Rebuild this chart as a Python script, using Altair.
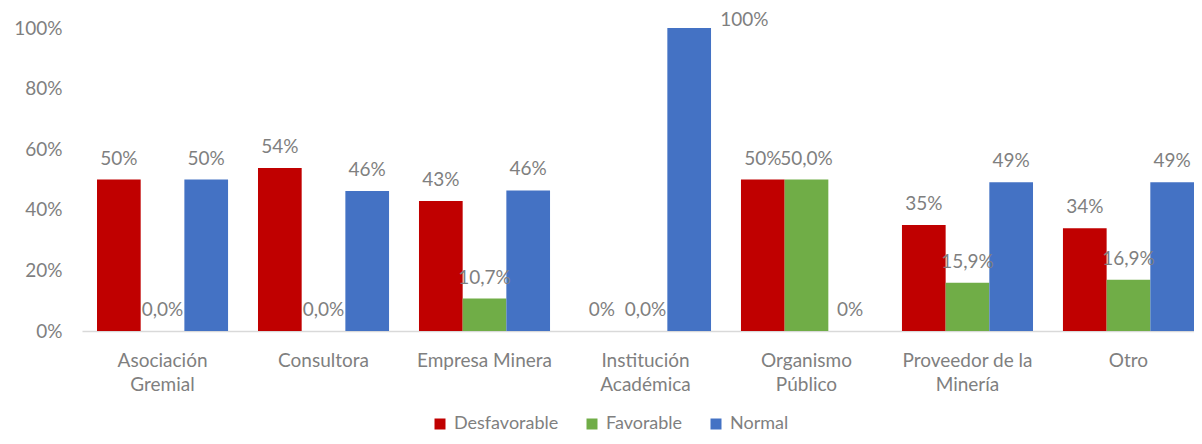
import altair as alt
import pandas as pd

FONT = "Lato"
FS = 19

categories = ["Asociación\nGremial", "Consultora", "Empresa Minera", "Institución\nAcadémica",
              "Organismo\nPúblico", "Proveedor de la\nMinería", "Otro"]
series = ["Desfavorable", "Favorable", "Normal"]
desfavorable = [50.0, 53.8, 42.9, 0.0, 50.0, 35.0, 33.9]
favorable = [0.0, 0.0, 10.7, 0.0, 50.0, 15.9, 16.9]
normal = [50.0, 46.2, 46.4, 100.0, 0.0, 49.1, 49.1]
colors = ["#C00000", "#70AD47", "#4472C4"]
y_ticks = [0, 0.2, 0.4, 0.6, 0.8, 1.0]

rows = []
for i, c in enumerate(categories):
    for s, vals in zip(series, [desfavorable, favorable, normal]):
        v = vals[i]
        if s == "Favorable":
            lab = f"{v:.1f}%".replace(".", ",")
        else:
            lab = f"{v:.0f}%"
        rows.append({"cat": c, "serie": s, "val": v / 100, "lab": lab})
df = pd.DataFrame(rows)

GRAY = "#7f7f7f"

base = alt.Chart(df).encode(
    x=alt.X("cat:N", sort=categories,
            scale=alt.Scale(paddingInner=0.186, paddingOuter=0.0466, align=1),
            axis=alt.Axis(title=None, labelAngle=0, labelExpr="split(datum.label, '\\n')",
                          ticks=False, domainColor="#d9d9d9", domainWidth=1.5,
                          labelFontSize=FS, labelColor=GRAY, labelPadding=20,
                          labelLineHeight=24, labelFont=FONT, labelLimit=300)),
    xOffset=alt.XOffset("serie:N", sort=series),
    y=alt.Y("val:Q", scale=alt.Scale(domain=[0, 1], nice=False),
            axis=alt.Axis(title=None, format=".0%", values=y_ticks, domain=False,
                          ticks=False, grid=False, labelPadding=20, labelFontSize=FS,
                          labelColor=GRAY, labelFont=FONT)),
)

bars = base.mark_bar().encode(
    color=alt.Color("serie:N", sort=series,
                    scale=alt.Scale(domain=series, range=colors),
                    legend=alt.Legend(title=None, orient="none", legendX=349, legendY=387,
                                      direction="horizontal", symbolType="square",
                                      symbolSize=121, labelFontSize=18, labelColor=GRAY,
                                      labelFont=FONT, columnPadding=24, labelOffset=5,
                                      padding=0, symbolStrokeWidth=0))
)

# regular labels centred above bars
text = base.transform_filter("datum.val < 0.95").mark_text(
    baseline="alphabetic", dy=-15, fontSize=FS, color=GRAY, font=FONT
).encode(text="lab:N")

# label of a full-height bar sits beside the bar's top (as Excel places it)
text_top = base.transform_filter("datum.val >= 0.95").mark_text(
    baseline="alphabetic", align="left", dx=31, dy=-2, fontSize=FS, color=GRAY, font=FONT
).encode(text="lab:N")

chart = alt.layer(bars, text, text_top).properties(
    width=1112, height=303,
    autosize=alt.AutoSizeParams(type="none"),
    padding={"left": 74, "top": 20, "right": 0, "bottom": 105},
).configure_view(stroke=None)

chart.save("out.html", embed_options={"renderer": "svg", "actions": False})
